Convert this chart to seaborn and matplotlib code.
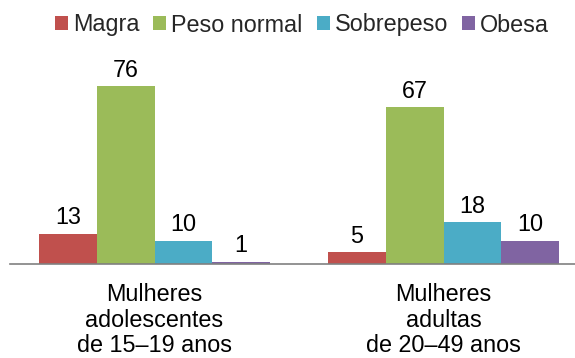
import matplotlib
matplotlib.use("Agg")
import matplotlib.pyplot as plt
import seaborn as sns
import pandas as pd

groups = ["Mulheres\nadolescentes\nde 15–19 anos", "Mulheres\nadultas\nde 20–49 anos"]
series = ["Magra", "Peso normal", "Sobrepeso", "Obesa"]
adolescentes = [13, 76, 10, 1]
adultas = [5, 67, 18, 10]
colors = ["#C0504D", "#9BBB59", "#4BACC6", "#8064A2"]

rows = []
for g, vals in zip(groups, [adolescentes, adultas]):
    for s, v in zip(series, vals):
        rows.append({"grupo": g, "estado": s, "valor": v})
df = pd.DataFrame(rows)

sns.set_theme(style="white")
plt.rcParams["font.family"] = ["Liberation Sans", "DejaVu Sans"]

FS = 16.8
W, H = 575, 358
fig = plt.figure(figsize=(W / 100, H / 100), dpi=100)
ax_left, ax_bottom = 10 / W, (H - 264) / H
ax = fig.add_axes([ax_left, ax_bottom, 1 - ax_left, (264 - 53) / H])

sns.barplot(data=df, x="grupo", y="valor", hue="estado", hue_order=series,
            order=groups, palette=colors, width=0.8, saturation=1,
            edgecolor="none", linewidth=0, ax=ax, legend=True)

ax.set_ylim(0, 90)
ax.set_xlim(-0.5, 1.5 - (588 - 575) / 289)

for cont in ax.containers:
    ax.bar_label(cont, labels=[f"{int(v)}" for v in cont.datavalues],
                 padding=3, fontsize=FS, color="#000000")

for s in ["top", "right", "left"]:
    ax.spines[s].set_visible(False)
ax.spines["bottom"].set_color("#808080")
ax.spines["bottom"].set_linewidth(1.2)
ax.set_yticks([])
ax.set_xlabel("")
ax.set_ylabel("")
ax.tick_params(axis="x", length=0, pad=14, labelsize=FS, colors="#000000")
for t in ax.get_xticklabels():
    t.set_linespacing(1.13)

handles, labels = ax.get_legend_handles_labels()
ax.legend(handles, labels, loc="center", bbox_to_anchor=(302 / W, 1 - 25 / H),
          bbox_transform=fig.transFigure, ncol=4, frameon=False,
          fontsize=FS, handlelength=0.56, handleheight=0.56,
          handletextpad=0.21, columnspacing=0.6, borderaxespad=0)

fig.savefig("out.png", dpi=100)
